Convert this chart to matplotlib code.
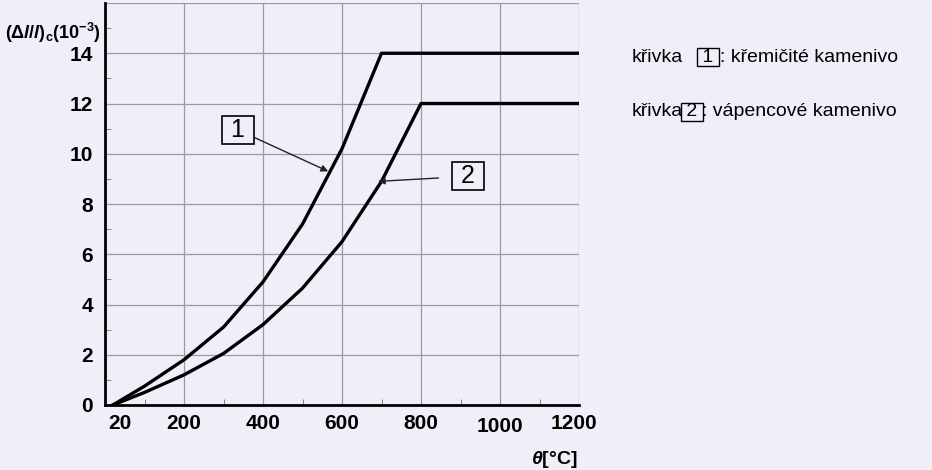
import numpy as np
import matplotlib
matplotlib.use('Agg')
import matplotlib.pyplot as plt
from matplotlib.ticker import FixedLocator
from matplotlib.transforms import ScaledTranslation

plt.rcParams['font.family'] = ['Liberation Sans', 'DejaVu Sans']
plt.rcParams['mathtext.fontset'] = 'custom'
plt.rcParams['mathtext.rm'] = 'Liberation Sans:bold'
plt.rcParams['mathtext.bf'] = 'Liberation Sans:bold'
plt.rcParams['mathtext.it'] = 'Liberation Sans:bold:italic'

# curve 1 - silicate aggregate, curve 2 - calcareous aggregate
theta1 = [20, 100, 200, 300, 400, 500, 600, 700, 1200]
strain1 = [0, 0.75, 1.8, 3.1, 4.9, 7.2, 10.2, 14, 14]
theta2 = [20, 100, 200, 300, 400, 500, 600, 700, 800, 1200]
strain2 = [0, 0.5, 1.2, 2.05, 3.2, 4.65, 6.5, 8.9, 12, 12]

xticks = [20, 200, 400, 600, 800, 1000, 1200]
yticks = [0, 2, 4, 6, 8, 10, 12, 14]

bg = '#efeff9'
W, H = 932, 470

fig = plt.figure(figsize=(9.32, 4.70), dpi=100, facecolor=bg)
ax = fig.add_axes([105 / W, 1 - 405 / H, 474 / W, 402 / H], facecolor=bg)

# grid
for v in [200, 400, 600, 800, 1000, 1200]:
    ax.axvline(v, color='#9a9aa4', lw=0.9, zorder=1)
for v in [2, 4, 6, 8, 10, 12, 14, 16]:
    ax.axhline(v, color='#9a9aa4', lw=0.9, zorder=1)

ax.plot(theta1, strain1, color='black', lw=2.4, zorder=3)
ax.plot(theta2, strain2, color='black', lw=2.4, zorder=3)

ax.set_xlim(0, 1200)
ax.set_ylim(0, 16)
for s in ['top', 'right']:
    ax.spines[s].set_visible(False)
for s in ['left', 'bottom']:
    ax.spines[s].set_linewidth(2)

ax.xaxis.set_major_locator(FixedLocator(xticks))
ax.set_xticklabels([str(t) for t in xticks], fontsize=15, fontweight='bold')
ax.yaxis.set_major_locator(FixedLocator(yticks))
ax.set_yticklabels([str(t) for t in yticks], fontsize=15, fontweight='bold')
ax.xaxis.set_minor_locator(FixedLocator([100, 300, 500, 700, 900, 1100]))
ax.yaxis.set_minor_locator(FixedLocator([1, 3, 5, 7, 9, 11, 13, 15]))
ax.tick_params(which='major', length=0)
ax.tick_params(axis='x', which='major', pad=6.5)
ax.tick_params(axis='y', which='major', pad=8.5)
ax.tick_params(which='minor', direction='in', length=4, color='#777777')
ax.xaxis.get_major_ticks()[5].set_pad(8.5)

# nudge first / last x labels like in the original
labs = ax.get_xticklabels()
labs[0].set_transform(labs[0].get_transform() + ScaledTranslation(7 / 100, 0, fig.dpi_scale_trans))
labs[-1].set_transform(labs[-1].get_transform() + ScaledTranslation(-5 / 100, 0, fig.dpi_scale_trans))

# annotations with boxed numbers
box = dict(boxstyle='square,pad=0.08', fc=bg, ec='black', lw=1.2)
ax.annotate(' 1 ', xy=(565, 9.3), xytext=(336, 10.95), fontsize=18, ha='center', va='center',
            bbox=box, arrowprops=dict(arrowstyle='-|>', color='#222222', lw=1,
                                      mutation_scale=10, shrinkA=0, shrinkB=0))
ax.annotate(' 2 ', xy=(691, 8.9), xytext=(918, 9.1), fontsize=18, ha='center', va='center',
            bbox=box, arrowprops=dict(arrowstyle='-|>', color='#222222', lw=1,
                                      mutation_scale=10, shrinkA=9, shrinkB=0))

# axis titles
fig.text(5 / W, 1 - 33 / H, r'$(\Delta l/l)_{\mathrm{c}}(10^{-3})$', fontsize=13, va='center', ha='left')
fig.text(578 / W, 1 - 459 / H, r'$\theta$[°C]', fontsize=14, fontweight='bold',
         va='center', ha='right')

# legend text
lbox = dict(boxstyle='square,pad=0.02', fc=bg, ec='black', lw=1)
fig.text(632 / W, 1 - 57 / H, 'křivka', fontsize=14, va='center')
fig.text(708 / W, 1 - 57 / H, ' 1 ', fontsize=14, va='center', ha='center', bbox=lbox)
fig.text(720 / W, 1 - 57 / H, ': křemičité kamenivo', fontsize=14, va='center')
fig.text(632 / W, 1 - 112 / H, 'křivka', fontsize=14, va='center')
fig.text(692 / W, 1 - 112 / H, ' 2 ', fontsize=14, va='center', ha='center', bbox=lbox)
fig.text(702 / W, 1 - 112 / H, ': vápencové kamenivo', fontsize=14, va='center')

fig.savefig('out.png', dpi=100, facecolor=bg)
